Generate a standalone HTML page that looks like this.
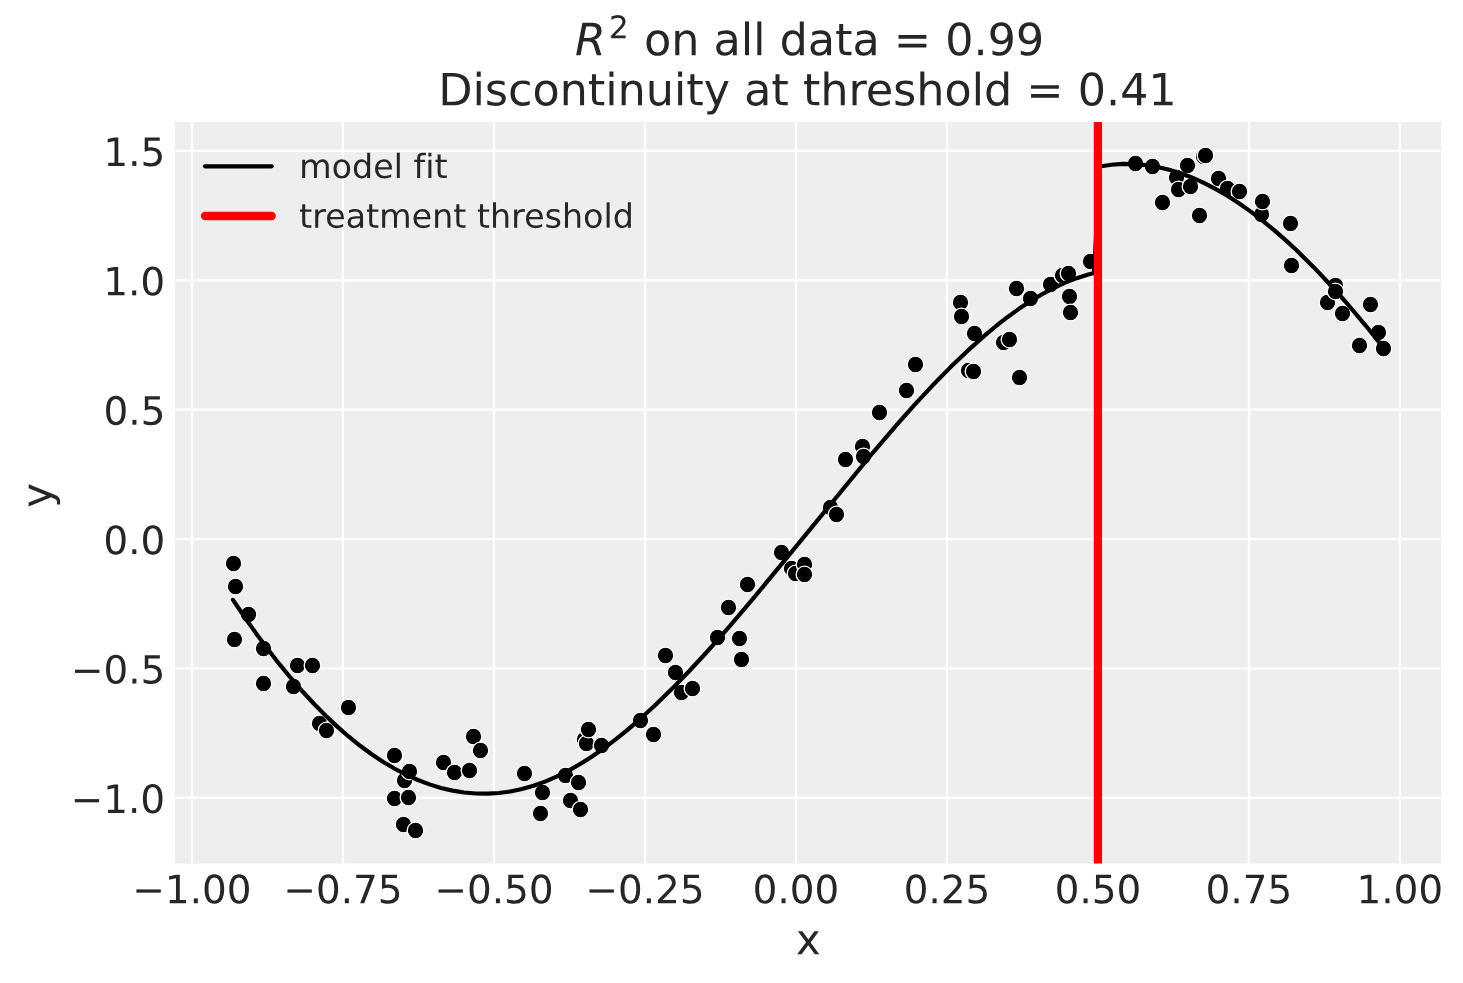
<!DOCTYPE html>
<html><head><meta charset="utf-8"><title>Regression discontinuity</title>
<style>html,body{margin:0;padding:0;background:#fff;width:1463px;height:983px;overflow:hidden;font-family:"Liberation Sans",sans-serif}</style>
</head><body>
<svg width="1463" height="983" viewBox="0 0 526.68 353.88" version="1.1" style="display:block">
<defs>
<style type="text/css">*{stroke-linejoin: round; stroke-linecap: butt}</style>
</defs>
<g id="figure_1">
<g id="patch_1">
<path d="M 0 353.88 L 526.68 353.88 L 526.68 0 L 0 0 z
" style="fill: #ffffff"/>
</g>
<g id="axes_1">
<g id="patch_2">
<path d="M 63 310.86 L 518.76 310.86 L 518.76 43.92 L 63 43.92 z
" style="fill: #eeeeee"/>
</g>
<g id="matplotlib.axis_1">
<g id="xtick_1">
<g id="line2d_1">
<path d="M 69.12 310.86 L 69.12 43.92 " clip-path="url(#pcec9c47f71)" style="fill: none; stroke: #ffffff; stroke-width: 0.8; stroke-linecap: round"/>
</g>
<g id="line2d_2"/>
<g id="text_1">
<g style="fill: #262626" transform="translate(47.6325 325.16) scale(0.14 -0.14)">
<defs>
<path id="DejaVuSans-2212" d="M 678 2272 L 4684 2272 L 4684 1741 L 678 1741 L 678 2272 z
" transform="scale(0.015625)"/>
<path id="DejaVuSans-31" d="M 794 531 L 1825 531 L 1825 4091 L 703 3866 L 703 4441 L 1819 4666 L 2450 4666 L 2450 531 L 3481 531 L 3481 0 L 794 0 L 794 531 z
" transform="scale(0.015625)"/>
<path id="DejaVuSans-2e" d="M 684 794 L 1344 794 L 1344 0 L 684 0 L 684 794 z
" transform="scale(0.015625)"/>
<path id="DejaVuSans-30" d="M 2034 4250 Q 1547 4250 1301 3770 Q 1056 3291 1056 2328 Q 1056 1369 1301 889 Q 1547 409 2034 409 Q 2525 409 2770 889 Q 3016 1369 3016 2328 Q 3016 3291 2770 3770 Q 2525 4250 2034 4250 z
M 2034 4750 Q 2819 4750 3233 4129 Q 3647 3509 3647 2328 Q 3647 1150 3233 529 Q 2819 -91 2034 -91 Q 1250 -91 836 529 Q 422 1150 422 2328 Q 422 3509 836 4129 Q 1250 4750 2034 4750 z
" transform="scale(0.015625)"/>
</defs>
<use href="#DejaVuSans-2212"/>
<use href="#DejaVuSans-31" transform="translate(83.789062 0)"/>
<use href="#DejaVuSans-2e" transform="translate(147.412109 0)"/>
<use href="#DejaVuSans-30" transform="translate(179.199219 0)"/>
<use href="#DejaVuSans-30" transform="translate(242.822266 0)"/>
</g>
</g>
</g>
<g id="xtick_2">
<g id="line2d_3">
<path d="M 123.4755 310.86 L 123.4755 43.92 " clip-path="url(#pcec9c47f71)" style="fill: none; stroke: #ffffff; stroke-width: 0.8; stroke-linecap: round"/>
</g>
<g id="line2d_4"/>
<g id="text_2">
<g style="fill: #262626" transform="translate(102.0105 325.16) scale(0.14 -0.14)">
<defs>
<path id="DejaVuSans-37" d="M 525 4666 L 3525 4666 L 3525 4397 L 1831 0 L 1172 0 L 2766 4134 L 525 4134 L 525 4666 z
" transform="scale(0.015625)"/>
<path id="DejaVuSans-35" d="M 691 4666 L 3169 4666 L 3169 4134 L 1269 4134 L 1269 2991 Q 1406 3038 1543 3061 Q 1681 3084 1819 3084 Q 2600 3084 3056 2656 Q 3513 2228 3513 1497 Q 3513 744 3044 326 Q 2575 -91 1722 -91 Q 1428 -91 1123 -41 Q 819 9 494 109 L 494 744 Q 775 591 1075 516 Q 1375 441 1709 441 Q 2250 441 2565 725 Q 2881 1009 2881 1497 Q 2881 1984 2565 2268 Q 2250 2553 1709 2553 Q 1456 2553 1204 2497 Q 953 2441 691 2322 L 691 4666 z
" transform="scale(0.015625)"/>
</defs>
<use href="#DejaVuSans-2212"/>
<use href="#DejaVuSans-30" transform="translate(83.789062 0)"/>
<use href="#DejaVuSans-2e" transform="translate(147.412109 0)"/>
<use href="#DejaVuSans-37" transform="translate(179.199219 0)"/>
<use href="#DejaVuSans-35" transform="translate(242.822266 0)"/>
</g>
</g>
</g>
<g id="xtick_3">
<g id="line2d_5">
<path d="M 177.831 310.86 L 177.831 43.92 " clip-path="url(#pcec9c47f71)" style="fill: none; stroke: #ffffff; stroke-width: 0.8; stroke-linecap: round"/>
</g>
<g id="line2d_6"/>
<g id="text_3">
<g style="fill: #262626" transform="translate(156.3885 325.16) scale(0.14 -0.14)">
<use href="#DejaVuSans-2212"/>
<use href="#DejaVuSans-30" transform="translate(83.789062 0)"/>
<use href="#DejaVuSans-2e" transform="translate(147.412109 0)"/>
<use href="#DejaVuSans-35" transform="translate(179.199219 0)"/>
<use href="#DejaVuSans-30" transform="translate(242.822266 0)"/>
</g>
</g>
</g>
<g id="xtick_4">
<g id="line2d_7">
<path d="M 232.1865 310.86 L 232.1865 43.92 " clip-path="url(#pcec9c47f71)" style="fill: none; stroke: #ffffff; stroke-width: 0.8; stroke-linecap: round"/>
</g>
<g id="line2d_8"/>
<g id="text_4">
<g style="fill: #262626" transform="translate(210.744 325.16) scale(0.14 -0.14)">
<defs>
<path id="DejaVuSans-32" d="M 1228 531 L 3431 531 L 3431 0 L 469 0 L 469 531 Q 828 903 1448 1529 Q 2069 2156 2228 2338 Q 2531 2678 2651 2914 Q 2772 3150 2772 3378 Q 2772 3750 2511 3984 Q 2250 4219 1831 4219 Q 1534 4219 1204 4116 Q 875 4013 500 3803 L 500 4441 Q 881 4594 1212 4672 Q 1544 4750 1819 4750 Q 2544 4750 2975 4387 Q 3406 4025 3406 3419 Q 3406 3131 3298 2873 Q 3191 2616 2906 2266 Q 2828 2175 2409 1742 Q 1991 1309 1228 531 z
" transform="scale(0.015625)"/>
</defs>
<use href="#DejaVuSans-2212"/>
<use href="#DejaVuSans-30" transform="translate(83.789062 0)"/>
<use href="#DejaVuSans-2e" transform="translate(147.412109 0)"/>
<use href="#DejaVuSans-32" transform="translate(179.199219 0)"/>
<use href="#DejaVuSans-35" transform="translate(242.822266 0)"/>
</g>
</g>
</g>
<g id="xtick_5">
<g id="line2d_9">
<path d="M 286.542 310.86 L 286.542 43.92 " clip-path="url(#pcec9c47f71)" style="fill: none; stroke: #ffffff; stroke-width: 0.8; stroke-linecap: round"/>
</g>
<g id="line2d_10"/>
<g id="text_5">
<g style="fill: #262626" transform="translate(270.9495 325.16) scale(0.14 -0.14)">
<use href="#DejaVuSans-30"/>
<use href="#DejaVuSans-2e" transform="translate(63.623047 0)"/>
<use href="#DejaVuSans-30" transform="translate(95.410156 0)"/>
<use href="#DejaVuSans-30" transform="translate(159.033203 0)"/>
</g>
</g>
</g>
<g id="xtick_6">
<g id="line2d_11">
<path d="M 340.8975 310.86 L 340.8975 43.92 " clip-path="url(#pcec9c47f71)" style="fill: none; stroke: #ffffff; stroke-width: 0.8; stroke-linecap: round"/>
</g>
<g id="line2d_12"/>
<g id="text_6">
<g style="fill: #262626" transform="translate(325.3275 325.16) scale(0.14 -0.14)">
<use href="#DejaVuSans-30"/>
<use href="#DejaVuSans-2e" transform="translate(63.623047 0)"/>
<use href="#DejaVuSans-32" transform="translate(95.410156 0)"/>
<use href="#DejaVuSans-35" transform="translate(159.033203 0)"/>
</g>
</g>
</g>
<g id="xtick_7">
<g id="line2d_13">
<path d="M 395.253 310.86 L 395.253 43.92 " clip-path="url(#pcec9c47f71)" style="fill: none; stroke: #ffffff; stroke-width: 0.8; stroke-linecap: round"/>
</g>
<g id="line2d_14"/>
<g id="text_7">
<g style="fill: #262626" transform="translate(379.683 325.16) scale(0.14 -0.14)">
<use href="#DejaVuSans-30"/>
<use href="#DejaVuSans-2e" transform="translate(63.623047 0)"/>
<use href="#DejaVuSans-35" transform="translate(95.410156 0)"/>
<use href="#DejaVuSans-30" transform="translate(159.033203 0)"/>
</g>
</g>
</g>
<g id="xtick_8">
<g id="line2d_15">
<path d="M 449.6085 310.86 L 449.6085 43.92 " clip-path="url(#pcec9c47f71)" style="fill: none; stroke: #ffffff; stroke-width: 0.8; stroke-linecap: round"/>
</g>
<g id="line2d_16"/>
<g id="text_8">
<g style="fill: #262626" transform="translate(434.016 325.16) scale(0.14 -0.14)">
<use href="#DejaVuSans-30"/>
<use href="#DejaVuSans-2e" transform="translate(63.623047 0)"/>
<use href="#DejaVuSans-37" transform="translate(95.410156 0)"/>
<use href="#DejaVuSans-35" transform="translate(159.033203 0)"/>
</g>
</g>
</g>
<g id="xtick_9">
<g id="line2d_17">
<path d="M 503.964 310.86 L 503.964 43.92 " clip-path="url(#pcec9c47f71)" style="fill: none; stroke: #ffffff; stroke-width: 0.8; stroke-linecap: round"/>
</g>
<g id="line2d_18"/>
<g id="text_9">
<g style="fill: #262626" transform="translate(488.349 325.16) scale(0.14 -0.14)">
<use href="#DejaVuSans-31"/>
<use href="#DejaVuSans-2e" transform="translate(63.623047 0)"/>
<use href="#DejaVuSans-30" transform="translate(95.410156 0)"/>
<use href="#DejaVuSans-30" transform="translate(159.033203 0)"/>
</g>
</g>
</g>
<g id="xlab">
<g style="fill: #262626" transform="translate(286.5555 343.4880) scale(0.15 -0.15)">
<defs>
<path id="DejaVuSans-78" d="M 3513 3500 L 2247 1797 L 3578 0 L 2900 0 L 1881 1375 L 863 0 L 184 0 L 1544 1831 L 300 3500 L 978 3500 L 1906 2253 L 2834 3500 L 3513 3500 z
" transform="scale(0.015625)"/>
</defs>
<use href="#DejaVuSans-78"/>
</g>
</g>
</g>
<g id="matplotlib.axis_2">
<g id="ytick_1">
<g id="line2d_19">
<path d="M 63 287.244 L 518.76 287.244 " clip-path="url(#pcec9c47f71)" style="fill: none; stroke: #ffffff; stroke-width: 0.8; stroke-linecap: round"/>
</g>
<g id="line2d_20"/>
<g id="text_10">
<g style="fill: #262626" transform="translate(25.435 292.644) scale(0.14 -0.14)">
<use href="#DejaVuSans-2212"/>
<use href="#DejaVuSans-31" transform="translate(83.789062 0)"/>
<use href="#DejaVuSans-2e" transform="translate(147.412109 0)"/>
<use href="#DejaVuSans-30" transform="translate(179.199219 0)"/>
</g>
</g>
</g>
<g id="ytick_2">
<g id="line2d_21">
<path d="M 63 240.66 L 518.76 240.66 " clip-path="url(#pcec9c47f71)" style="fill: none; stroke: #ffffff; stroke-width: 0.8; stroke-linecap: round"/>
</g>
<g id="line2d_22"/>
<g id="text_11">
<g style="fill: #262626" transform="translate(25.525 246.06) scale(0.14 -0.14)">
<use href="#DejaVuSans-2212"/>
<use href="#DejaVuSans-30" transform="translate(83.789062 0)"/>
<use href="#DejaVuSans-2e" transform="translate(147.412109 0)"/>
<use href="#DejaVuSans-35" transform="translate(179.199219 0)"/>
</g>
</g>
</g>
<g id="ytick_3">
<g id="line2d_23">
<path d="M 63 194.076 L 518.76 194.076 " clip-path="url(#pcec9c47f71)" style="fill: none; stroke: #ffffff; stroke-width: 0.8; stroke-linecap: round"/>
</g>
<g id="line2d_24"/>
<g id="text_12">
<g style="fill: #262626" transform="translate(37.225 199.476) scale(0.14 -0.14)">
<use href="#DejaVuSans-30"/>
<use href="#DejaVuSans-2e" transform="translate(63.623047 0)"/>
<use href="#DejaVuSans-30" transform="translate(95.410156 0)"/>
</g>
</g>
</g>
<g id="ytick_4">
<g id="line2d_25">
<path d="M 63 147.492 L 518.76 147.492 " clip-path="url(#pcec9c47f71)" style="fill: none; stroke: #ffffff; stroke-width: 0.8; stroke-linecap: round"/>
</g>
<g id="line2d_26"/>
<g id="text_13">
<g style="fill: #262626" transform="translate(37.27 152.892) scale(0.14 -0.14)">
<use href="#DejaVuSans-30"/>
<use href="#DejaVuSans-2e" transform="translate(63.623047 0)"/>
<use href="#DejaVuSans-35" transform="translate(95.410156 0)"/>
</g>
</g>
</g>
<g id="ytick_5">
<g id="line2d_27">
<path d="M 63 100.908 L 518.76 100.908 " clip-path="url(#pcec9c47f71)" style="fill: none; stroke: #ffffff; stroke-width: 0.8; stroke-linecap: round"/>
</g>
<g id="line2d_28"/>
<g id="text_14">
<g style="fill: #262626" transform="translate(37.18 106.308) scale(0.14 -0.14)">
<use href="#DejaVuSans-31"/>
<use href="#DejaVuSans-2e" transform="translate(63.623047 0)"/>
<use href="#DejaVuSans-30" transform="translate(95.410156 0)"/>
</g>
</g>
</g>
<g id="ytick_6">
<g id="line2d_29">
<path d="M 63 54.324 L 518.76 54.324 " clip-path="url(#pcec9c47f71)" style="fill: none; stroke: #ffffff; stroke-width: 0.8; stroke-linecap: round"/>
</g>
<g id="line2d_30"/>
<g id="text_15">
<g style="fill: #262626" transform="translate(37.225 59.724) scale(0.14 -0.14)">
<use href="#DejaVuSans-31"/>
<use href="#DejaVuSans-2e" transform="translate(63.623047 0)"/>
<use href="#DejaVuSans-35" transform="translate(95.410156 0)"/>
</g>
</g>
</g>
<g id="ylab">
<g style="fill: #262626" transform="translate(18.5190 182.7945) rotate(-90) scale(0.15 -0.15)">
<defs>
<path id="DejaVuSans-79" d="M 2059 -325 Q 1816 -950 1584 -1140 Q 1353 -1331 966 -1331 L 506 -1331 L 506 -850 L 844 -850 Q 1081 -850 1212 -737 Q 1344 -625 1503 -206 L 1606 56 L 191 3500 L 800 3500 L 1894 763 L 2988 3500 L 3597 3500 L 2059 -325 z
" transform="scale(0.015625)"/>
</defs>
<use href="#DejaVuSans-79"/>
</g>
</g>
</g>
<g id="PathCollection_1">
<defs>
<path id="mfc9193daae" d="M 0 3 C 0.795609 3 1.55874 2.683901 2.12132 2.12132 C 2.683901 1.55874 3 0.795609 3 0 C 3 -0.795609 2.683901 -1.55874 2.12132 -2.12132 C 1.55874 -2.683901 0.795609 -3 0 -3 C -0.795609 -3 -1.55874 -2.683901 -2.12132 -2.12132 C -2.683901 -1.55874 -3 -0.795609 -3 0 C -3 0.795609 -2.683901 1.55874 -2.12132 2.12132 C -1.55874 2.683901 -0.795609 3 0 3 z
" style="stroke: #ffffff; stroke-width: 0.48"/>
</defs>
<g clip-path="url(#pcec9c47f71)">
<use href="#mfc9193daae" x="84.06" y="202.86" style="stroke: #ffffff; stroke-width: 0.48"/>
<use href="#mfc9193daae" x="84.42" y="230.22" style="stroke: #ffffff; stroke-width: 0.48"/>
<use href="#mfc9193daae" x="84.78" y="211.14" style="stroke: #ffffff; stroke-width: 0.48"/>
<use href="#mfc9193daae" x="89.46" y="221.22" style="stroke: #ffffff; stroke-width: 0.48"/>
<use href="#mfc9193daae" x="94.86" y="233.46" style="stroke: #ffffff; stroke-width: 0.48"/>
<use href="#mfc9193daae" x="94.86" y="246.06" style="stroke: #ffffff; stroke-width: 0.48"/>
<use href="#mfc9193daae" x="105.66" y="247.14" style="stroke: #ffffff; stroke-width: 0.48"/>
<use href="#mfc9193daae" x="107.1" y="239.58" style="stroke: #ffffff; stroke-width: 0.48"/>
<use href="#mfc9193daae" x="112.5" y="239.58" style="stroke: #ffffff; stroke-width: 0.48"/>
<use href="#mfc9193daae" x="115.02" y="260.46" style="stroke: #ffffff; stroke-width: 0.48"/>
<use href="#mfc9193daae" x="117.54" y="262.98" style="stroke: #ffffff; stroke-width: 0.48"/>
<use href="#mfc9193daae" x="125.46" y="254.7" style="stroke: #ffffff; stroke-width: 0.48"/>
<use href="#mfc9193daae" x="142.02" y="271.98" style="stroke: #ffffff; stroke-width: 0.48"/>
<use href="#mfc9193daae" x="142.02" y="287.46" style="stroke: #ffffff; stroke-width: 0.48"/>
<use href="#mfc9193daae" x="145.26" y="296.82" style="stroke: #ffffff; stroke-width: 0.48"/>
<use href="#mfc9193daae" x="145.62" y="280.98" style="stroke: #ffffff; stroke-width: 0.48"/>
<use href="#mfc9193daae" x="147.06" y="287.1" style="stroke: #ffffff; stroke-width: 0.48"/>
<use href="#mfc9193daae" x="147.42" y="277.74" style="stroke: #ffffff; stroke-width: 0.48"/>
<use href="#mfc9193daae" x="149.58" y="298.98" style="stroke: #ffffff; stroke-width: 0.48"/>
<use href="#mfc9193daae" x="159.66" y="274.5" style="stroke: #ffffff; stroke-width: 0.48"/>
<use href="#mfc9193daae" x="163.62" y="278.1" style="stroke: #ffffff; stroke-width: 0.48"/>
<use href="#mfc9193daae" x="169.02" y="277.38" style="stroke: #ffffff; stroke-width: 0.48"/>
<use href="#mfc9193daae" x="170.46" y="265.14" style="stroke: #ffffff; stroke-width: 0.48"/>
<use href="#mfc9193daae" x="172.98" y="270.18" style="stroke: #ffffff; stroke-width: 0.48"/>
<use href="#mfc9193daae" x="188.82" y="278.46" style="stroke: #ffffff; stroke-width: 0.48"/>
<use href="#mfc9193daae" x="194.58" y="292.86" style="stroke: #ffffff; stroke-width: 0.48"/>
<use href="#mfc9193daae" x="195.3" y="285.3" style="stroke: #ffffff; stroke-width: 0.48"/>
<use href="#mfc9193daae" x="203.58" y="279.18" style="stroke: #ffffff; stroke-width: 0.48"/>
<use href="#mfc9193daae" x="205.38" y="288.18" style="stroke: #ffffff; stroke-width: 0.48"/>
<use href="#mfc9193daae" x="208.26" y="281.7" style="stroke: #ffffff; stroke-width: 0.48"/>
<use href="#mfc9193daae" x="208.98" y="291.42" style="stroke: #ffffff; stroke-width: 0.48"/>
<use href="#mfc9193daae" x="210.42" y="266.22" style="stroke: #ffffff; stroke-width: 0.48"/>
<use href="#mfc9193daae" x="211.14" y="267.66" style="stroke: #ffffff; stroke-width: 0.48"/>
<use href="#mfc9193daae" x="211.86" y="262.62" style="stroke: #ffffff; stroke-width: 0.48"/>
<use href="#mfc9193daae" x="216.54" y="268.38" style="stroke: #ffffff; stroke-width: 0.48"/>
<use href="#mfc9193daae" x="230.58" y="259.38" style="stroke: #ffffff; stroke-width: 0.48"/>
<use href="#mfc9193daae" x="235.26" y="264.42" style="stroke: #ffffff; stroke-width: 0.48"/>
<use href="#mfc9193daae" x="239.58" y="235.98" style="stroke: #ffffff; stroke-width: 0.48"/>
<use href="#mfc9193daae" x="243.18" y="242.1" style="stroke: #ffffff; stroke-width: 0.48"/>
<use href="#mfc9193daae" x="245.34" y="249.3" style="stroke: #ffffff; stroke-width: 0.48"/>
<use href="#mfc9193daae" x="249.3" y="247.86" style="stroke: #ffffff; stroke-width: 0.48"/>
<use href="#mfc9193daae" x="258.3" y="229.5" style="stroke: #ffffff; stroke-width: 0.48"/>
<use href="#mfc9193daae" x="262.26" y="218.7" style="stroke: #ffffff; stroke-width: 0.48"/>
<use href="#mfc9193daae" x="266.22" y="229.86" style="stroke: #ffffff; stroke-width: 0.48"/>
<use href="#mfc9193daae" x="266.94" y="237.42" style="stroke: #ffffff; stroke-width: 0.48"/>
<use href="#mfc9193daae" x="269.1" y="210.42" style="stroke: #ffffff; stroke-width: 0.48"/>
<use href="#mfc9193daae" x="281.34" y="198.9" style="stroke: #ffffff; stroke-width: 0.48"/>
<use href="#mfc9193daae" x="284.94" y="204.66" style="stroke: #ffffff; stroke-width: 0.48"/>
<use href="#mfc9193daae" x="286.38" y="206.46" style="stroke: #ffffff; stroke-width: 0.48"/>
<use href="#mfc9193daae" x="289.62" y="203.22" style="stroke: #ffffff; stroke-width: 0.48"/>
<use href="#mfc9193daae" x="289.62" y="206.82" style="stroke: #ffffff; stroke-width: 0.48"/>
<use href="#mfc9193daae" x="298.98" y="182.7" style="stroke: #ffffff; stroke-width: 0.48"/>
<use href="#mfc9193daae" x="301.14" y="185.22" style="stroke: #ffffff; stroke-width: 0.48"/>
<use href="#mfc9193daae" x="304.38" y="165.42" style="stroke: #ffffff; stroke-width: 0.48"/>
<use href="#mfc9193daae" x="310.5" y="160.74" style="stroke: #ffffff; stroke-width: 0.48"/>
<use href="#mfc9193daae" x="310.86" y="164.34" style="stroke: #ffffff; stroke-width: 0.48"/>
<use href="#mfc9193daae" x="316.62" y="148.5" style="stroke: #ffffff; stroke-width: 0.48"/>
<use href="#mfc9193daae" x="326.34" y="140.58" style="stroke: #ffffff; stroke-width: 0.48"/>
<use href="#mfc9193daae" x="329.58" y="131.22" style="stroke: #ffffff; stroke-width: 0.48"/>
<use href="#mfc9193daae" x="345.78" y="108.9" style="stroke: #ffffff; stroke-width: 0.48"/>
<use href="#mfc9193daae" x="346.14" y="113.94" style="stroke: #ffffff; stroke-width: 0.48"/>
<use href="#mfc9193daae" x="348.66" y="133.38" style="stroke: #ffffff; stroke-width: 0.48"/>
<use href="#mfc9193daae" x="350.46" y="133.74" style="stroke: #ffffff; stroke-width: 0.48"/>
<use href="#mfc9193daae" x="350.82" y="120.06" style="stroke: #ffffff; stroke-width: 0.48"/>
<use href="#mfc9193daae" x="361.26" y="123.3" style="stroke: #ffffff; stroke-width: 0.48"/>
<use href="#mfc9193daae" x="363.42" y="122.22" style="stroke: #ffffff; stroke-width: 0.48"/>
<use href="#mfc9193daae" x="365.94" y="103.86" style="stroke: #ffffff; stroke-width: 0.48"/>
<use href="#mfc9193daae" x="367.02" y="135.9" style="stroke: #ffffff; stroke-width: 0.48"/>
<use href="#mfc9193daae" x="370.98" y="107.46" style="stroke: #ffffff; stroke-width: 0.48"/>
<use href="#mfc9193daae" x="378.18" y="102.42" style="stroke: #ffffff; stroke-width: 0.48"/>
<use href="#mfc9193daae" x="382.5" y="99.18" style="stroke: #ffffff; stroke-width: 0.48"/>
<use href="#mfc9193daae" x="384.66" y="98.46" style="stroke: #ffffff; stroke-width: 0.48"/>
<use href="#mfc9193daae" x="385.02" y="106.74" style="stroke: #ffffff; stroke-width: 0.48"/>
<use href="#mfc9193daae" x="385.38" y="112.5" style="stroke: #ffffff; stroke-width: 0.48"/>
<use href="#mfc9193daae" x="392.58" y="94.14" style="stroke: #ffffff; stroke-width: 0.48"/>
<use href="#mfc9193daae" x="408.78" y="58.86" style="stroke: #ffffff; stroke-width: 0.48"/>
<use href="#mfc9193daae" x="414.9" y="59.94" style="stroke: #ffffff; stroke-width: 0.48"/>
<use href="#mfc9193daae" x="418.5" y="72.9" style="stroke: #ffffff; stroke-width: 0.48"/>
<use href="#mfc9193daae" x="423.54" y="63.9" style="stroke: #ffffff; stroke-width: 0.48"/>
<use href="#mfc9193daae" x="424.26" y="68.22" style="stroke: #ffffff; stroke-width: 0.48"/>
<use href="#mfc9193daae" x="427.5" y="59.58" style="stroke: #ffffff; stroke-width: 0.48"/>
<use href="#mfc9193daae" x="428.58" y="67.14" style="stroke: #ffffff; stroke-width: 0.48"/>
<use href="#mfc9193daae" x="431.82" y="77.58" style="stroke: #ffffff; stroke-width: 0.48"/>
<use href="#mfc9193daae" x="433.26" y="56.34" style="stroke: #ffffff; stroke-width: 0.48"/>
<use href="#mfc9193daae" x="433.98" y="55.98" style="stroke: #ffffff; stroke-width: 0.48"/>
<use href="#mfc9193daae" x="438.66" y="64.26" style="stroke: #ffffff; stroke-width: 0.48"/>
<use href="#mfc9193daae" x="441.9" y="67.86" style="stroke: #ffffff; stroke-width: 0.48"/>
<use href="#mfc9193daae" x="446.22" y="68.94" style="stroke: #ffffff; stroke-width: 0.48"/>
<use href="#mfc9193daae" x="454.14" y="77.22" style="stroke: #ffffff; stroke-width: 0.48"/>
<use href="#mfc9193daae" x="454.5" y="72.54" style="stroke: #ffffff; stroke-width: 0.48"/>
<use href="#mfc9193daae" x="464.58" y="80.46" style="stroke: #ffffff; stroke-width: 0.48"/>
<use href="#mfc9193daae" x="464.94" y="95.58" style="stroke: #ffffff; stroke-width: 0.48"/>
<use href="#mfc9193daae" x="477.9" y="108.9" style="stroke: #ffffff; stroke-width: 0.48"/>
<use href="#mfc9193daae" x="480.78" y="102.78" style="stroke: #ffffff; stroke-width: 0.48"/>
<use href="#mfc9193daae" x="480.78" y="104.94" style="stroke: #ffffff; stroke-width: 0.48"/>
<use href="#mfc9193daae" x="483.3" y="112.86" style="stroke: #ffffff; stroke-width: 0.48"/>
<use href="#mfc9193daae" x="489.42" y="124.38" style="stroke: #ffffff; stroke-width: 0.48"/>
<use href="#mfc9193daae" x="493.38" y="109.62" style="stroke: #ffffff; stroke-width: 0.48"/>
<use href="#mfc9193daae" x="496.26" y="119.7" style="stroke: #ffffff; stroke-width: 0.48"/>
<use href="#mfc9193daae" x="498.06" y="125.46" style="stroke: #ffffff; stroke-width: 0.48"/>
</g>
</g>
<g id="line2d_31">
<path d="M 83.88 215.936614 L 88.040804 222.121931 L 92.201608 228.029671 L 96.362412 233.658422 L 100.523216 239.006771 L 104.68402 244.073307 L 108.844824 248.856616 L 113.005628 253.355289 L 117.166432 257.567912 L 121.327236 261.493073 L 125.48804 265.129361 L 129.648844 268.475363 L 133.809648 271.529667 L 137.970452 274.290862 L 142.131256 276.757536 L 146.29206 278.928276 L 150.452864 280.80167 L 154.613668 282.376307 L 158.774472 283.650774 L 162.935276 284.62366 L 167.09608 285.293552 L 171.256884 285.659039 L 175.417688 285.718708 L 179.578492 285.471147 L 183.739296 284.914946 L 187.900101 284.04869 L 192.060905 282.870969 L 196.221709 281.381539 L 200.382513 279.589253 L 204.543317 277.507227 L 208.704121 275.148605 L 212.864925 272.526527 L 217.025729 269.654136 L 221.186533 266.544573 L 225.347337 263.210979 L 229.508141 259.666498 L 235.749347 253.983107 L 241.990553 247.89914 L 248.231759 241.45895 L 254.472965 234.70689 L 262.794573 225.295673 L 271.116181 215.514007 L 281.518191 202.926143 L 314.804623 162.278358 L 323.126231 152.600105 L 329.367437 145.607872 L 335.608643 138.896032 L 341.849849 132.511389 L 348.091055 126.500745 L 354.332261 120.910903 L 358.493065 117.441233 L 362.653869 114.193254 L 366.814673 111.180835 L 370.975477 108.417843 L 375.136281 105.918145 L 379.297085 103.695608 L 383.457889 101.764101 L 387.618693 100.13749 L 391.779497 98.829643 L 393.859899 98.29959 L 395.940302 59.93691 L 400.101106 59.305711 L 404.26191 59.015521 L 408.422714 59.058164 L 412.583518 59.425457 L 416.744322 60.109217 L 420.905126 61.101258 L 425.06593 62.393399 L 429.226734 63.977456 L 433.387538 65.845244 L 437.548342 67.988582 L 441.709146 70.399284 L 445.86995 73.069168 L 450.030754 75.99005 L 454.191558 79.153746 L 458.352362 82.552073 L 462.513166 86.176848 L 466.67397 90.019887 L 472.915176 96.175789 L 479.156382 102.776752 L 485.397588 109.795158 L 491.638794 117.203387 L 497.88 124.973819 L 497.88 124.973819 " clip-path="url(#pcec9c47f71)" style="fill: none; stroke: #000000; stroke-width: 1.5; stroke-linecap: round"/>
</g>
<g id="line2d_32">
<path d="M 395.253 310.86 L 395.253 43.92 " clip-path="url(#pcec9c47f71)" style="fill: none; stroke: #ff0000; stroke-width: 3; stroke-linecap: round"/>
</g>
<g id="patch_3">
<path d="M 63 310.86 L 63 43.92 " style="fill: none"/>
</g>
<g id="patch_4">
<path d="M 518.76 310.86 L 518.76 43.92 " style="fill: none"/>
</g>
<g id="patch_5">
<path d="M 63 310.86 L 518.76 310.86 " style="fill: none"/>
</g>
<g id="patch_6">
<path d="M 63 43.92 L 518.76 43.92 " style="fill: none"/>
</g>
<g id="ttl">
<g style="fill: #262626" transform="translate(206.9775 19.9920) scale(0.16 -0.16)">
<defs>
<path id="DejaVuSans-Oblique-52" d="M 1613 4147 L 1294 2491 L 2106 2491 Q 2584 2491 2879 2755 Q 3175 3019 3175 3444 Q 3175 3784 2976 3965 Q 2778 4147 2406 4147 L 1613 4147 z
M 2772 2241 Q 2972 2194 3105 2009 Q 3238 1825 3413 1275 L 3809 0 L 3144 0 L 2778 1197 Q 2638 1659 2453 1815 Q 2269 1972 1888 1972 L 1191 1972 L 806 0 L 172 0 L 1081 4666 L 2503 4666 Q 3150 4666 3495 4373 Q 3841 4081 3841 3531 Q 3841 3044 3547 2687 Q 3253 2331 2772 2241 z
" transform="scale(0.015625)"/>
<path id="DejaVuSans-20" transform="scale(0.015625)"/>
<path id="DejaVuSans-6f" d="M 1959 3097 Q 1497 3097 1228 2736 Q 959 2375 959 1747 Q 959 1119 1226 758 Q 1494 397 1959 397 Q 2419 397 2687 759 Q 2956 1122 2956 1747 Q 2956 2369 2687 2733 Q 2419 3097 1959 3097 z
M 1959 3584 Q 2709 3584 3137 3096 Q 3566 2609 3566 1747 Q 3566 888 3137 398 Q 2709 -91 1959 -91 Q 1206 -91 779 398 Q 353 888 353 1747 Q 353 2609 779 3096 Q 1206 3584 1959 3584 z
" transform="scale(0.015625)"/>
<path id="DejaVuSans-6e" d="M 3513 2113 L 3513 0 L 2938 0 L 2938 2094 Q 2938 2591 2744 2837 Q 2550 3084 2163 3084 Q 1697 3084 1428 2787 Q 1159 2491 1159 1978 L 1159 0 L 581 0 L 581 3500 L 1159 3500 L 1159 2956 Q 1366 3272 1645 3428 Q 1925 3584 2291 3584 Q 2894 3584 3203 3211 Q 3513 2838 3513 2113 z
" transform="scale(0.015625)"/>
<path id="DejaVuSans-61" d="M 2194 1759 Q 1497 1759 1228 1600 Q 959 1441 959 1056 Q 959 750 1161 570 Q 1363 391 1709 391 Q 2188 391 2477 730 Q 2766 1069 2766 1631 L 2766 1759 L 2194 1759 z
M 3341 1997 L 3341 0 L 2766 0 L 2766 531 Q 2569 213 2275 61 Q 1981 -91 1556 -91 Q 1019 -91 701 211 Q 384 513 384 1019 Q 384 1609 779 1909 Q 1175 2209 1959 2209 L 2766 2209 L 2766 2266 Q 2766 2663 2505 2880 Q 2244 3097 1772 3097 Q 1472 3097 1187 3025 Q 903 2953 641 2809 L 641 3341 Q 956 3463 1253 3523 Q 1550 3584 1831 3584 Q 2591 3584 2966 3190 Q 3341 2797 3341 1997 z
" transform="scale(0.015625)"/>
<path id="DejaVuSans-6c" d="M 603 4863 L 1178 4863 L 1178 0 L 603 0 L 603 4863 z
" transform="scale(0.015625)"/>
<path id="DejaVuSans-64" d="M 2906 2969 L 2906 4863 L 3481 4863 L 3481 0 L 2906 0 L 2906 525 Q 2725 213 2448 61 Q 2172 -91 1784 -91 Q 1150 -91 751 415 Q 353 922 353 1747 Q 353 2572 751 3078 Q 1150 3584 1784 3584 Q 2172 3584 2448 3432 Q 2725 3281 2906 2969 z
M 947 1747 Q 947 1113 1208 752 Q 1469 391 1925 391 Q 2381 391 2643 752 Q 2906 1113 2906 1747 Q 2906 2381 2643 2742 Q 2381 3103 1925 3103 Q 1469 3103 1208 2742 Q 947 2381 947 1747 z
" transform="scale(0.015625)"/>
<path id="DejaVuSans-74" d="M 1172 4494 L 1172 3500 L 2356 3500 L 2356 3053 L 1172 3053 L 1172 1153 Q 1172 725 1289 603 Q 1406 481 1766 481 L 2356 481 L 2356 0 L 1766 0 Q 1100 0 847 248 Q 594 497 594 1153 L 594 3053 L 172 3053 L 172 3500 L 594 3500 L 594 4494 L 1172 4494 z
" transform="scale(0.015625)"/>
<path id="DejaVuSans-3d" d="M 678 2906 L 4684 2906 L 4684 2381 L 678 2381 L 678 2906 z
M 678 1631 L 4684 1631 L 4684 1100 L 678 1100 L 678 1631 z
" transform="scale(0.015625)"/>
<path id="DejaVuSans-39" d="M 703 97 L 703 672 Q 941 559 1184 500 Q 1428 441 1663 441 Q 2288 441 2617 861 Q 2947 1281 2994 2138 Q 2813 1869 2534 1725 Q 2256 1581 1919 1581 Q 1219 1581 811 2004 Q 403 2428 403 3163 Q 403 3881 828 4315 Q 1253 4750 1959 4750 Q 2769 4750 3195 4129 Q 3622 3509 3622 2328 Q 3622 1225 3098 567 Q 2575 -91 1691 -91 Q 1453 -91 1209 -44 Q 966 3 703 97 z
M 1959 2075 Q 2384 2075 2632 2365 Q 2881 2656 2881 3163 Q 2881 3666 2632 3958 Q 2384 4250 1959 4250 Q 1534 4250 1286 3958 Q 1038 3666 1038 3163 Q 1038 2656 1286 2365 Q 1534 2075 1959 2075 z
" transform="scale(0.015625)"/>
</defs>
<use href="#DejaVuSans-Oblique-52" transform="translate(0 0.765625)"/>
<use href="#DejaVuSans-32" transform="translate(76.499193 39.046875) scale(0.7)"/>
<use href="#DejaVuSans-20" transform="translate(123.769701 0.765625)"/>
<use href="#DejaVuSans-6f" transform="translate(155.55681 0.765625)"/>
<use href="#DejaVuSans-6e" transform="translate(216.738451 0.765625)"/>
<use href="#DejaVuSans-20" transform="translate(280.117357 0.765625)"/>
<use href="#DejaVuSans-61" transform="translate(311.904466 0.765625)"/>
<use href="#DejaVuSans-6c" transform="translate(373.183763 0.765625)"/>
<use href="#DejaVuSans-6c" transform="translate(400.966966 0.765625)"/>
<use href="#DejaVuSans-20" transform="translate(428.750169 0.765625)"/>
<use href="#DejaVuSans-64" transform="translate(460.537279 0.765625)"/>
<use href="#DejaVuSans-61" transform="translate(524.013841 0.765625)"/>
<use href="#DejaVuSans-74" transform="translate(585.293138 0.765625)"/>
<use href="#DejaVuSans-61" transform="translate(624.502122 0.765625)"/>
<use href="#DejaVuSans-20" transform="translate(685.781419 0.765625)"/>
<use href="#DejaVuSans-3d" transform="translate(717.568529 0.765625)"/>
<use href="#DejaVuSans-20" transform="translate(801.357591 0.765625)"/>
<use href="#DejaVuSans-30" transform="translate(833.144701 0.765625)"/>
<use href="#DejaVuSans-2e" transform="translate(896.767747 0.765625)"/>
<use href="#DejaVuSans-39" transform="translate(928.554857 0.765625)"/>
<use href="#DejaVuSans-39" transform="translate(992.177904 0.765625)"/>
</g>
<g style="fill: #262626" transform="translate(157.7925 37.92) scale(0.16 -0.16)">
<defs>
<path id="DejaVuSans-44" d="M 1259 4147 L 1259 519 L 2022 519 Q 2988 519 3436 956 Q 3884 1394 3884 2338 Q 3884 3275 3436 3711 Q 2988 4147 2022 4147 L 1259 4147 z
M 628 4666 L 1925 4666 Q 3281 4666 3915 4102 Q 4550 3538 4550 2338 Q 4550 1131 3912 565 Q 3275 0 1925 0 L 628 0 L 628 4666 z
" transform="scale(0.015625)"/>
<path id="DejaVuSans-69" d="M 603 3500 L 1178 3500 L 1178 0 L 603 0 L 603 3500 z
M 603 4863 L 1178 4863 L 1178 4134 L 603 4134 L 603 4863 z
" transform="scale(0.015625)"/>
<path id="DejaVuSans-73" d="M 2834 3397 L 2834 2853 Q 2591 2978 2328 3040 Q 2066 3103 1784 3103 Q 1356 3103 1142 2972 Q 928 2841 928 2578 Q 928 2378 1081 2264 Q 1234 2150 1697 2047 L 1894 2003 Q 2506 1872 2764 1633 Q 3022 1394 3022 966 Q 3022 478 2636 193 Q 2250 -91 1575 -91 Q 1294 -91 989 -36 Q 684 19 347 128 L 347 722 Q 666 556 975 473 Q 1284 391 1588 391 Q 1994 391 2212 530 Q 2431 669 2431 922 Q 2431 1156 2273 1281 Q 2116 1406 1581 1522 L 1381 1569 Q 847 1681 609 1914 Q 372 2147 372 2553 Q 372 3047 722 3315 Q 1072 3584 1716 3584 Q 2034 3584 2315 3537 Q 2597 3491 2834 3397 z
" transform="scale(0.015625)"/>
<path id="DejaVuSans-63" d="M 3122 3366 L 3122 2828 Q 2878 2963 2633 3030 Q 2388 3097 2138 3097 Q 1578 3097 1268 2742 Q 959 2388 959 1747 Q 959 1106 1268 751 Q 1578 397 2138 397 Q 2388 397 2633 464 Q 2878 531 3122 666 L 3122 134 Q 2881 22 2623 -34 Q 2366 -91 2075 -91 Q 1284 -91 818 406 Q 353 903 353 1747 Q 353 2603 823 3093 Q 1294 3584 2113 3584 Q 2378 3584 2631 3529 Q 2884 3475 3122 3366 z
" transform="scale(0.015625)"/>
<path id="DejaVuSans-75" d="M 544 1381 L 544 3500 L 1119 3500 L 1119 1403 Q 1119 906 1312 657 Q 1506 409 1894 409 Q 2359 409 2629 706 Q 2900 1003 2900 1516 L 2900 3500 L 3475 3500 L 3475 0 L 2900 0 L 2900 538 Q 2691 219 2414 64 Q 2138 -91 1772 -91 Q 1169 -91 856 284 Q 544 659 544 1381 z
M 1991 3584 L 1991 3584 z
" transform="scale(0.015625)"/>
<path id="DejaVuSans-68" d="M 3513 2113 L 3513 0 L 2938 0 L 2938 2094 Q 2938 2591 2744 2837 Q 2550 3084 2163 3084 Q 1697 3084 1428 2787 Q 1159 2491 1159 1978 L 1159 0 L 581 0 L 581 4863 L 1159 4863 L 1159 2956 Q 1366 3272 1645 3428 Q 1925 3584 2291 3584 Q 2894 3584 3203 3211 Q 3513 2838 3513 2113 z
" transform="scale(0.015625)"/>
<path id="DejaVuSans-72" d="M 2631 2963 Q 2534 3019 2420 3045 Q 2306 3072 2169 3072 Q 1681 3072 1420 2755 Q 1159 2438 1159 1844 L 1159 0 L 581 0 L 581 3500 L 1159 3500 L 1159 2956 Q 1341 3275 1631 3429 Q 1922 3584 2338 3584 Q 2397 3584 2469 3576 Q 2541 3569 2628 3553 L 2631 2963 z
" transform="scale(0.015625)"/>
<path id="DejaVuSans-65" d="M 3597 1894 L 3597 1613 L 953 1613 Q 991 1019 1311 708 Q 1631 397 2203 397 Q 2534 397 2845 478 Q 3156 559 3463 722 L 3463 178 Q 3153 47 2828 -22 Q 2503 -91 2169 -91 Q 1331 -91 842 396 Q 353 884 353 1716 Q 353 2575 817 3079 Q 1281 3584 2069 3584 Q 2775 3584 3186 3129 Q 3597 2675 3597 1894 z
M 3022 2063 Q 3016 2534 2758 2815 Q 2500 3097 2075 3097 Q 1594 3097 1305 2825 Q 1016 2553 972 2059 L 3022 2063 z
" transform="scale(0.015625)"/>
<path id="DejaVuSans-34" d="M 2419 4116 L 825 1625 L 2419 1625 L 2419 4116 z
M 2253 4666 L 3047 4666 L 3047 1625 L 3713 1625 L 3713 1100 L 3047 1100 L 3047 0 L 2419 0 L 2419 1100 L 313 1100 L 313 1709 L 2253 4666 z
" transform="scale(0.015625)"/>
</defs>
<use href="#DejaVuSans-44"/>
<use href="#DejaVuSans-69" transform="translate(77.001953 0)"/>
<use href="#DejaVuSans-73" transform="translate(104.785156 0)"/>
<use href="#DejaVuSans-63" transform="translate(156.884766 0)"/>
<use href="#DejaVuSans-6f" transform="translate(211.865234 0)"/>
<use href="#DejaVuSans-6e" transform="translate(273.046875 0)"/>
<use href="#DejaVuSans-74" transform="translate(336.425781 0)"/>
<use href="#DejaVuSans-69" transform="translate(375.634766 0)"/>
<use href="#DejaVuSans-6e" transform="translate(403.417969 0)"/>
<use href="#DejaVuSans-75" transform="translate(466.796875 0)"/>
<use href="#DejaVuSans-69" transform="translate(530.175781 0)"/>
<use href="#DejaVuSans-74" transform="translate(557.958984 0)"/>
<use href="#DejaVuSans-79" transform="translate(597.167969 0)"/>
<use href="#DejaVuSans-20" transform="translate(656.347656 0)"/>
<use href="#DejaVuSans-61" transform="translate(688.134766 0)"/>
<use href="#DejaVuSans-74" transform="translate(749.414062 0)"/>
<use href="#DejaVuSans-20" transform="translate(788.623047 0)"/>
<use href="#DejaVuSans-74" transform="translate(820.410156 0)"/>
<use href="#DejaVuSans-68" transform="translate(859.619141 0)"/>
<use href="#DejaVuSans-72" transform="translate(922.998047 0)"/>
<use href="#DejaVuSans-65" transform="translate(961.861328 0)"/>
<use href="#DejaVuSans-73" transform="translate(1023.384766 0)"/>
<use href="#DejaVuSans-68" transform="translate(1075.484375 0)"/>
<use href="#DejaVuSans-6f" transform="translate(1138.863281 0)"/>
<use href="#DejaVuSans-6c" transform="translate(1200.044922 0)"/>
<use href="#DejaVuSans-64" transform="translate(1227.828125 0)"/>
<use href="#DejaVuSans-20" transform="translate(1291.304688 0)"/>
<use href="#DejaVuSans-3d" transform="translate(1323.091797 0)"/>
<use href="#DejaVuSans-20" transform="translate(1406.880859 0)"/>
<use href="#DejaVuSans-30" transform="translate(1438.667969 0)"/>
<use href="#DejaVuSans-2e" transform="translate(1502.291016 0)"/>
<use href="#DejaVuSans-34" transform="translate(1534.078125 0)"/>
<use href="#DejaVuSans-31" transform="translate(1597.701172 0)"/>
</g>
</g>
<g id="leg">
<g id="line2d_33">
<path d="M 73.8 59.88 L 85.8 59.88 L 97.8 59.88 " style="fill: none; stroke: #000000; stroke-width: 1.5; stroke-linecap: round"/>
</g>
<g id="text_16">
<g style="fill: #262626" transform="translate(107.6880 64.0800) scale(0.12 -0.12)">
<defs>
<path id="DejaVuSans-6d" d="M 3328 2828 Q 3544 3216 3844 3400 Q 4144 3584 4550 3584 Q 5097 3584 5394 3201 Q 5691 2819 5691 2113 L 5691 0 L 5113 0 L 5113 2094 Q 5113 2597 4934 2840 Q 4756 3084 4391 3084 Q 3944 3084 3684 2787 Q 3425 2491 3425 1978 L 3425 0 L 2847 0 L 2847 2094 Q 2847 2600 2669 2842 Q 2491 3084 2119 3084 Q 1678 3084 1418 2786 Q 1159 2488 1159 1978 L 1159 0 L 581 0 L 581 3500 L 1159 3500 L 1159 2956 Q 1356 3278 1631 3431 Q 1906 3584 2284 3584 Q 2666 3584 2933 3390 Q 3200 3197 3328 2828 z
" transform="scale(0.015625)"/>
<path id="DejaVuSans-66" d="M 2375 4863 L 2375 4384 L 1825 4384 Q 1516 4384 1395 4259 Q 1275 4134 1275 3809 L 1275 3500 L 2222 3500 L 2222 3053 L 1275 3053 L 1275 0 L 697 0 L 697 3053 L 147 3053 L 147 3500 L 697 3500 L 697 3744 Q 697 4328 969 4595 Q 1241 4863 1831 4863 L 2375 4863 z
" transform="scale(0.015625)"/>
</defs>
<use href="#DejaVuSans-6d"/>
<use href="#DejaVuSans-6f" transform="translate(97.412109 0)"/>
<use href="#DejaVuSans-64" transform="translate(158.59375 0)"/>
<use href="#DejaVuSans-65" transform="translate(222.070312 0)"/>
<use href="#DejaVuSans-6c" transform="translate(283.59375 0)"/>
<use href="#DejaVuSans-20" transform="translate(311.376953 0)"/>
<use href="#DejaVuSans-66" transform="translate(343.164062 0)"/>
<use href="#DejaVuSans-69" transform="translate(378.369141 0)"/>
<use href="#DejaVuSans-74" transform="translate(406.152344 0)"/>
</g>
</g>
<g id="line2d_34">
<path d="M 73.8 77.76 L 85.8 77.76 L 97.8 77.76 " style="fill: none; stroke: #ff0000; stroke-width: 3; stroke-linecap: round"/>
</g>
<g id="text_17">
<g style="fill: #262626" transform="translate(107.6880 81.9600) scale(0.12 -0.12)">
<use href="#DejaVuSans-74"/>
<use href="#DejaVuSans-72" transform="translate(39.208984 0)"/>
<use href="#DejaVuSans-65" transform="translate(78.072266 0)"/>
<use href="#DejaVuSans-61" transform="translate(139.595703 0)"/>
<use href="#DejaVuSans-74" transform="translate(200.875 0)"/>
<use href="#DejaVuSans-6d" transform="translate(240.083984 0)"/>
<use href="#DejaVuSans-65" transform="translate(337.496094 0)"/>
<use href="#DejaVuSans-6e" transform="translate(399.019531 0)"/>
<use href="#DejaVuSans-74" transform="translate(462.398438 0)"/>
<use href="#DejaVuSans-20" transform="translate(501.607422 0)"/>
<use href="#DejaVuSans-74" transform="translate(533.394531 0)"/>
<use href="#DejaVuSans-68" transform="translate(572.603516 0)"/>
<use href="#DejaVuSans-72" transform="translate(635.982422 0)"/>
<use href="#DejaVuSans-65" transform="translate(674.845703 0)"/>
<use href="#DejaVuSans-73" transform="translate(736.369141 0)"/>
<use href="#DejaVuSans-68" transform="translate(788.46875 0)"/>
<use href="#DejaVuSans-6f" transform="translate(851.847656 0)"/>
<use href="#DejaVuSans-6c" transform="translate(913.029297 0)"/>
<use href="#DejaVuSans-64" transform="translate(940.8125 0)"/>
</g>
</g>
</g>
</g>
</g>
<defs>
<clipPath id="pcec9c47f71">
<rect x="63" y="43.92" width="455.76" height="266.94"/>
</clipPath>
</defs>
</svg>

</body></html>
